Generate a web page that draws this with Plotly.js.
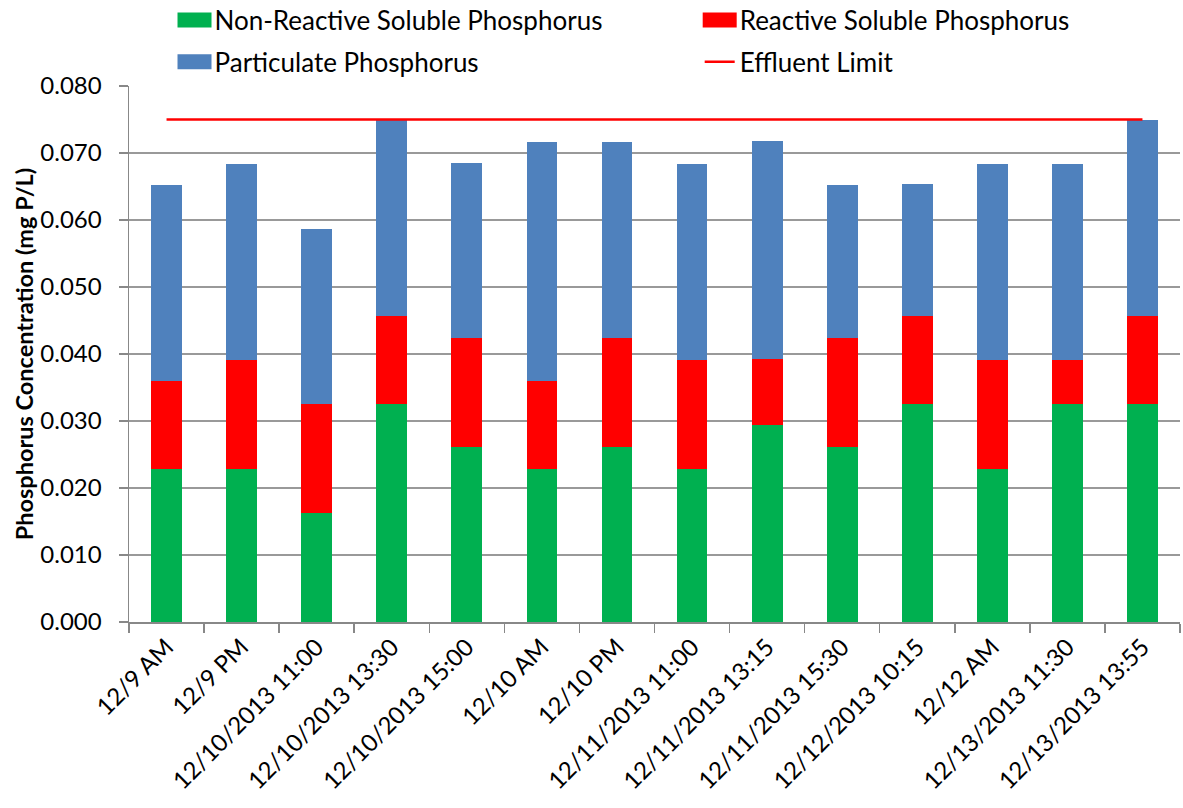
<!DOCTYPE html>
<html>
<head>
<meta charset="utf-8">
<script src="https://cdn.plot.ly/plotly-3.0.1.min.js"></script>
<style>html,body{margin:0;padding:0;background:#fff;}#chart{width:1183px;height:808px;}</style>
</head>
<body>
<div id="chart"></div>
<script>
const categories = ["12/9 AM","12/9 PM","12/10/2013 11:00","12/10/2013 13:30","12/10/2013 15:00","12/10 AM","12/10 PM","12/11/2013 11:00","12/11/2013 13:15","12/11/2013 15:30","12/12/2013 10:15","12/12 AM","12/13/2013 11:30","12/13/2013 13:55"];
const nonReactiveSoluble = [0.0228,0.0228,0.0163,0.0326,0.0261,0.0228,0.0261,0.0228,0.0294,0.0261,0.0326,0.0228,0.0326,0.0326];
const reactiveSoluble = [0.0131,0.0163,0.0163,0.0131,0.0163,0.0131,0.0163,0.0163,0.0098,0.0163,0.0131,0.0163,0.0065,0.0131];
const particulate = [0.0293,0.0293,0.0261,0.0293,0.0261,0.0358,0.0293,0.0293,0.0326,0.0228,0.0196,0.0293,0.0293,0.0293];
const effluentLimit = categories.map(() => 0.075);
const yTickVals = [0,0.01,0.02,0.03,0.04,0.05,0.06,0.07,0.08];

const font = "Lato, 'Open Sans', sans-serif";
const traces = [
  {type:'bar', name:'Non-Reactive Soluble Phosphorus', x:categories, y:nonReactiveSoluble,
   marker:{color:'#00B050'}, legend:'legend', legendgroup:'a', hoverinfo:'y'},
  {type:'bar', name:'Reactive Soluble Phosphorus', x:categories, y:reactiveSoluble,
   marker:{color:'#FF0000'}, legend:'legend2', legendgroup:'c', hoverinfo:'y'},
  {type:'bar', name:'Particulate Phosphorus', x:categories, y:particulate,
   marker:{color:'#4F81BD'}, legend:'legend', legendgroup:'b', hoverinfo:'y'},
  {type:'scatter', mode:'lines', name:'Effluent Limit', x:categories, y:effluentLimit,
   line:{color:'#FF0000', width:2.5}, legend:'legend2', legendgroup:'d', hoverinfo:'y'}
];

const legendCommon = {orientation:'v', traceorder:'grouped', tracegroupgap:5,
  font:{family:font, size:26, color:'#000'}, bgcolor:'rgba(0,0,0,0)',
  xanchor:'left', yanchor:'top', itemclick:false, itemdoubleclick:false};

const layout = {
  width:1183, height:808,
  margin:{l:128.5, r:2.5, t:86, b:186, autoexpand:false},
  paper_bgcolor:'#fff', plot_bgcolor:'#fff',
  barmode:'stack', bargap:0.59,
  font:{family:font, size:22, color:'#000'},
  showlegend:true,
  legend:Object.assign({}, legendCommon, {x:0.0433, y:1.167}),
  legend2:Object.assign({}, legendCommon, {x:0.543, y:1.167}),
  xaxis:{type:'category', tickangle:-45, tickson:'boundaries', ticks:'outside', ticklen:9,
    tickcolor:'#888', tickwidth:1.5, showline:true, linecolor:'#888', linewidth:1.5,
    showgrid:false, automargin:false, tickfont:{family:font, size:24, color:'#000'}},
  yaxis:{range:[0,0.08], tickvals:yTickVals, tickformat:'.3f', ticks:'outside', ticklen:9,
    tickcolor:'#888', tickwidth:1.5, showline:true, linecolor:'#888', linewidth:1.5,
    showgrid:true, gridcolor:'#999', gridwidth:1.5, zeroline:false, automargin:false,
    ticklabelstandoff:12,
    tickfont:{family:font, size:24, color:'#000'},
    title:{text:'<b>Phosphorus Concentration (mg P/L)</b>', font:{family:font, size:23.5, color:'#000'}, standoff:0}}
};

Plotly.newPlot('chart', traces, layout, {displayModeBar:false, staticPlot:true}).then(gd => {
  // widen the bar legend swatches to match the reference's wide rectangles
  gd.querySelectorAll('g.traces path').forEach(p => {
    const d = (p.getAttribute('d') || '').replace(/\s/g, '');
    if (d === 'M6,6H-6V-6H6Z') p.setAttribute('d', 'M-17,7.5H17V-7.5H-17Z');
  });
});
</script>
</body>
</html>
